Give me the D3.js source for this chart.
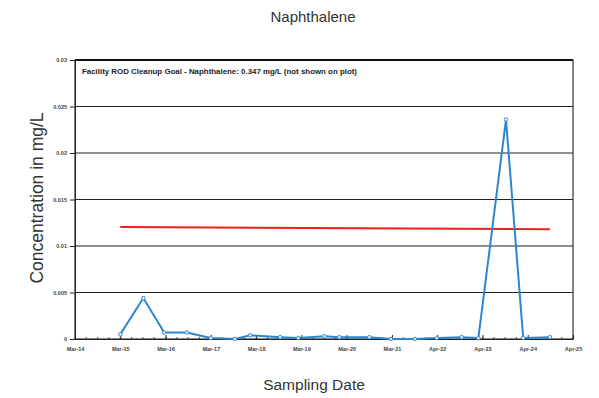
<!DOCTYPE html>
<html><head><meta charset="utf-8">
<script src="https://cdn.jsdelivr.net/npm/d3@7"></script>
<style>body{margin:0;background:#fff}svg{display:block}</style>
</head><body><svg id="c" width="599" height="398"></svg>
<script>
// Data
const tickLabels = ["Mar-14","Mar-15","Mar-16","Mar-17","Mar-18","Mar-19","Mar-20","Mar-21","Apr-22","Apr-23","Apr-24","Apr-25"];
const sampleX = [1.0,1.51,1.97,2.47,3.0,3.53,3.87,4.53,4.93,5.51,5.84,6.50,6.98,7.51,7.99,8.54,8.91,9.52,9.90,10.49];
const sampleY = [0.0005,0.0044,0.0007,0.0007,0.0001,0.0,0.0004,0.0002,0.0001,0.0003,0.0002,0.0002,0.0,0.0,0.0001,0.0002,0.0001,0.0236,0.0001,0.0002];
const trendX = [1.0,10.49];
const trendY = [0.01205,0.0118];
const yTicks = [0,0.005,0.01,0.015,0.02,0.025,0.03];
const yTickLabels = ["0","0.005","0.01","0.015","0.02","0.025","0.03"];

const svg = d3.select("#c");
const L=75,R=573,T=60,B=339;
const x = d3.scaleLinear().domain([0,tickLabels.length-1]).range([L,R]);
const y = d3.scaleLinear().domain([0,0.03]).range([B,T]);

svg.append("rect").attr("width",599).attr("height",398).attr("fill","#fff");

// gridlines
svg.append("g").selectAll("line").data(yTicks.slice(1)).join("line")
  .attr("x1",L).attr("x2",R).attr("y1",d=>y(d)).attr("y2",d=>y(d))
  .attr("stroke","#222").attr("stroke-width",1.1);
// frame
svg.append("rect").attr("x",L).attr("y",T).attr("width",R-L).attr("height",B-T)
  .attr("fill","none").attr("stroke","#222").attr("stroke-width",1.1);
svg.append("line").attr("x1",L).attr("x2",R).attr("y1",T).attr("y2",T).attr("stroke","#111").attr("stroke-width",2);

// y axis
const ya = d3.axisLeft(y).tickValues(yTicks).tickFormat((d,i)=>yTickLabels[i]).tickSize(5).tickPadding(3);
const gy = svg.append("g").attr("transform",`translate(${L},0)`).call(ya);
gy.select(".domain").attr("stroke","#222");
gy.selectAll("line").attr("stroke","#222");
gy.selectAll("text").attr("font-family","Liberation Sans, Arial, sans-serif").attr("font-size",5.5).attr("font-weight","bold").attr("fill","#444");

// x axis minor ticks
const minor = d3.range(0,tickLabels.length-1+0.001,0.25);
svg.append("g").selectAll("line").data(minor).join("line")
  .attr("x1",d=>x(d)).attr("x2",d=>x(d)).attr("y1",B-2).attr("y2",B+1)
  .attr("stroke","#333").attr("stroke-width",0.8);
const xa = d3.axisBottom(x).tickValues(d3.range(tickLabels.length)).tickFormat((d,i)=>tickLabels[i]).tickSizeInner(-4).tickSizeOuter(0).tickPadding(8);
const gx = svg.append("g").attr("transform",`translate(0,${B})`).call(xa);
gx.select(".domain").attr("stroke","#222");
gx.selectAll("line").attr("stroke","#222");
gx.selectAll("text").attr("font-family","Liberation Sans, Arial, sans-serif").attr("font-size",5.5).attr("font-weight","bold").attr("fill","#444");

// annotation
svg.append("text").attr("x",82).attr("y",74).attr("font-family","Liberation Sans, Arial, sans-serif")
  .attr("font-size",6.3).attr("font-weight","bold").attr("fill","#222")
  .attr("textLength",275).attr("lengthAdjust","spacingAndGlyphs")
  .text("Facility ROD Cleanup Goal - Naphthalene: 0.347 mg/L (not shown on plot)");

// trend line (red)
svg.append("path").datum(trendX.map((d,i)=>[d,trendY[i]]))
  .attr("d",d3.line().x(d=>x(d[0])).y(d=>y(d[1])))
  .attr("fill","none").attr("stroke","#e8231f").attr("stroke-width",2);

// data line
const pts = sampleX.map((d,i)=>[d,sampleY[i]]);
svg.append("path").datum(pts)
  .attr("d",d3.line().x(d=>x(d[0])).y(d=>y(d[1])))
  .attr("fill","none").attr("stroke","#2b86d1").attr("stroke-width",2);
svg.append("g").selectAll("circle").data(pts).join("circle")
  .attr("cx",d=>x(d[0])).attr("cy",d=>y(d[1])).attr("r",1.8)
  .attr("fill","#e6f0fa").attr("stroke","#2b86d1").attr("stroke-width",0.9);

// titles
svg.append("text").attr("x",313).attr("y",22).attr("text-anchor","middle")
  .attr("font-family","Liberation Sans, Arial, sans-serif").attr("font-size",15).attr("fill","#333").text("Naphthalene");
svg.append("text").attr("x",314).attr("y",390).attr("text-anchor","middle")
  .attr("font-family","Liberation Sans, Arial, sans-serif").attr("font-size",15.5).attr("fill","#333").text("Sampling Date");
svg.append("text").attr("transform","translate(43,198) rotate(-90)").attr("text-anchor","middle")
  .attr("font-family","Liberation Sans, Arial, sans-serif").attr("font-size",17.5).attr("fill","#333").text("Concentration in mg/L");
</script></body></html>
